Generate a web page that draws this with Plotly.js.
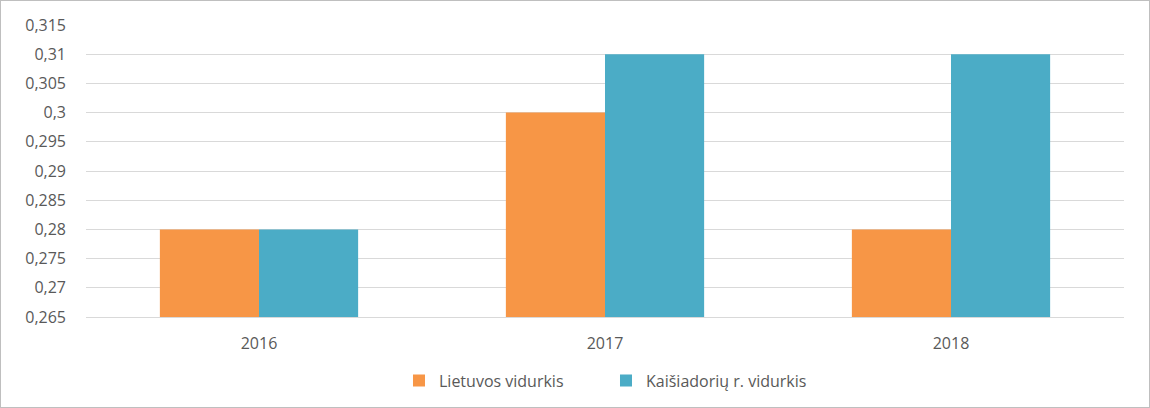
<!DOCTYPE html>
<html><head><meta charset="utf-8">
<script src="https://cdn.plot.ly/plotly-3.0.1.min.js"></script>
<style>
html,body{margin:0;padding:0;background:#fff;}
#wrap{position:absolute;left:0;top:0;width:1148px;height:406px;border:1px solid #bfbfbf;}
#chart{width:1148px;height:406px;}
</style></head><body>
<div id="wrap"><div id="chart"></div></div>
<script>
const years = ['2016', '2017', '2018'];
const lietuvos = [0.28, 0.30, 0.28];
const kaisiadoriu = [0.28, 0.31, 0.31];
const seriesNames = ['Lietuvos vidurkis', 'Kaišiadorių r. vidurkis'];
const colors = ['#F79646', '#4BACC6'];

const fontFam = 'Open Sans, Noto Sans, sans-serif';
const data = [
  {type:'bar', x:years, y:lietuvos, name:seriesNames[0], marker:{color:colors[0]}, hoverinfo:'none'},
  {type:'bar', x:years, y:kaisiadoriu, name:seriesNames[1], marker:{color:colors[1]}, hoverinfo:'none'}
];
const layout = {
  width:1148, height:406,
  margin:{l:85, r:25, t:24, b:90, autoexpand:false},
  paper_bgcolor:'#fff', plot_bgcolor:'#fff',
  separators:', ',
  barmode:'group', bargap:0.427, bargroupgap:0,
  font:{family:fontFam, size:16, color:'#595959'},
  xaxis:{type:'category', showgrid:false, zeroline:false, showline:true, linecolor:'#d9d9d9', linewidth:1,
    ticks:'', ticklabelstandoff:12, tickfont:{size:16, color:'#595959'}},
  yaxis:{range:[0.265, 0.315], dtick:0.005, tick0:0.265, tickformat:'.3~f', showgrid:true, gridcolor:'#d9d9d9', gridwidth:1,
    zeroline:false, showline:false, ticks:'', ticklabelstandoff:19, tickfont:{size:16, color:'#595959'}},
  showlegend:true,
  legend:{orientation:'h', x:0.527, xanchor:'center', xref:'container', yref:'container', y:0.065, yanchor:'middle',
    font:{size:16, color:'#595959'}, itemwidth:30, entrywidth:162, traceorder:'normal'}
};
Plotly.newPlot('chart', data, layout, {displayModeBar:false, staticPlot:true});
</script>
</body></html>
